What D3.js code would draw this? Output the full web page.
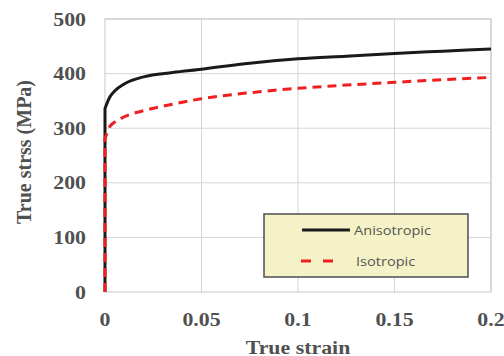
<!DOCTYPE html>
<html>
<head>
<meta charset="utf-8">
<script src="https://cdn.jsdelivr.net/npm/d3@7"></script>
<style>
  body { margin: 0; background: #fff; }
  svg { display: block; }
</style>
</head>
<body>
<svg id="chart" width="504" height="356"></svg>
<script>
// values
const strain = [0, 0, 0.0025, 0.005, 0.01, 0.02, 0.035, 0.05, 0.075, 0.1, 0.125, 0.15, 0.175, 0.2];
const anisotropic = [0, 336, 357, 368, 381, 394, 402, 408, 419, 427, 432, 437, 441, 445];
const isotropic = [0, 281, 303, 311, 321, 332, 344, 354, 365, 373, 379, 384, 389, 393];
const xTicks = [0, 0.05, 0.1, 0.15, 0.2];
const xTickLabels = ["0", "0.05", "0.1", "0.15", "0.2"];
const yTicks = [0, 100, 200, 300, 400, 500];
const seriesNames = ["Anisotropic", "Isotropic"];

const svg = d3.select("#chart");
const plotLeft = 105, plotRight = 491, plotTop = 19, plotBottom = 292;

const x = d3.scaleLinear().domain([0, 0.2]).range([plotLeft, plotRight]);
const y = d3.scaleLinear().domain([0, 500]).range([plotBottom, plotTop]);

const serif = "'Liberation Serif', 'Times New Roman', serif";
const textCol = "#505050";
const stretch = 1.15; // reference text is a little wide

// grid
svg.append("g").selectAll("line")
  .data(xTicks.slice(1))
  .join("line")
  .attr("x1", d => x(d)).attr("x2", d => x(d))
  .attr("y1", plotTop).attr("y2", plotBottom)
  .attr("stroke", "#d6d6d6").attr("stroke-width", 1);

svg.append("g").selectAll("line")
  .data(yTicks.slice(1))
  .join("line")
  .attr("x1", plotLeft).attr("x2", plotRight)
  .attr("y1", d => y(d)).attr("y2", d => y(d))
  .attr("stroke", "#d6d6d6").attr("stroke-width", 1);

// frame
svg.append("rect")
  .attr("x", plotLeft).attr("y", plotTop)
  .attr("width", plotRight - plotLeft).attr("height", plotBottom - plotTop)
  .attr("fill", "none").attr("stroke", "#c8c8c8").attr("stroke-width", 1);

// tick labels
svg.append("g").selectAll("text")
  .data(yTicks)
  .join("text")
  .attr("transform", d => `translate(86,${y(d)}) scale(${stretch},1)`)
  .attr("dy", "0.35em")
  .attr("text-anchor", "end")
  .attr("font-family", serif)
  .attr("font-weight", "bold")
  .attr("font-size", "19px")
  .attr("fill", textCol)
  .text(d => d);

svg.append("g").selectAll("text")
  .data(xTicks)
  .join("text")
  .attr("transform", d => `translate(${x(d)},319) scale(${stretch},1)`)
  .attr("dy", "0.35em")
  .attr("text-anchor", "middle")
  .attr("font-family", serif)
  .attr("font-weight", "bold")
  .attr("font-size", "19px")
  .attr("fill", textCol)
  .text((d, i) => xTickLabels[i]);

// axis titles
svg.append("text")
  .attr("transform", `translate(298,347) scale(${stretch},1)`)
  .attr("dy", "0.35em")
  .attr("text-anchor", "middle")
  .attr("font-family", serif)
  .attr("font-weight", "bold")
  .attr("font-size", "19px")
  .attr("fill", textCol)
  .text("True strain");

svg.append("text")
  .attr("transform", "translate(24,152) rotate(-90)")
  .attr("dy", "0.35em")
  .attr("text-anchor", "middle")
  .attr("font-family", serif)
  .attr("font-weight", "bold")
  .attr("font-size", "20px")
  .attr("fill", textCol)
  .text("True strss (MPa)");

// curves: straight elastic segment, then smooth plastic part
const plasticLine = d3.line()
  .x(d => x(d[0]))
  .y(d => y(d[1]))
  .curve(d3.curveMonotoneX);

function curvePath(vals) {
  const pts = strain.map((s, i) => [s, vals[i]]);
  const start = "M" + x(pts[0][0]) + "," + y(pts[0][1]);
  return start + "L" + plasticLine(pts.slice(1)).slice(1);
}

svg.append("path")
  .attr("d", curvePath(anisotropic))
  .attr("fill", "none")
  .attr("stroke", "#1a1a1a")
  .attr("stroke-width", 3);

svg.append("path")
  .attr("d", curvePath(isotropic))
  .attr("fill", "none")
  .attr("stroke", "#f01e1e")
  .attr("stroke-width", 3)
  .attr("stroke-dasharray", "9,6");

// legend
const lg = svg.append("g");
lg.append("rect")
  .attr("x", 264).attr("y", 214)
  .attr("width", 204).attr("height", 63)
  .attr("fill", "#f4f2c6")
  .attr("stroke", "#4d4d4d")
  .attr("stroke-width", 1.5);

lg.append("line")
  .attr("x1", 302).attr("x2", 350)
  .attr("y1", 230).attr("y2", 230)
  .attr("stroke", "#1a1a1a").attr("stroke-width", 3);

lg.append("line")
  .attr("x1", 301).attr("x2", 342)
  .attr("y1", 261).attr("y2", 261)
  .attr("stroke", "#f01e1e").attr("stroke-width", 3)
  .attr("stroke-dasharray", "10,12");

lg.selectAll("text")
  .data(seriesNames)
  .join("text")
  .attr("transform", (d, i) => `translate(${i === 0 ? 354 : 356},${i === 0 ? 230 : 261}) scale(1.12,1)`)
  .attr("dy", "0.35em")
  .attr("font-family", "'Open Sans', 'Noto Sans', sans-serif")
  .attr("font-size", "13px")
  .attr("fill", "#555")
  .text(d => d);
</script>
</body>
</html>
